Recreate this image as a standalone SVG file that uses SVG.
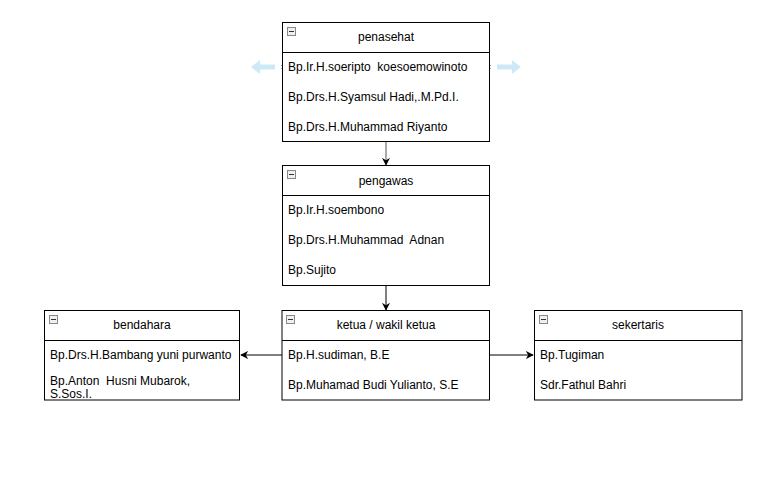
<svg xmlns="http://www.w3.org/2000/svg" width="778" height="485" viewBox="0 0 778 485">
<style>
.box{fill:#fff;stroke:#000;stroke-width:1}
.hl{stroke:#000;stroke-width:1}
.t{font-family:"Liberation Sans",Arial,sans-serif;font-size:12px;fill:#000;white-space:pre}
.h{text-anchor:middle}
.ic{fill:#f0f0f0;stroke:#888;stroke-width:1}
.icm{stroke:#333;stroke-width:1}
.c{fill:none;stroke:#000;stroke-width:1}
.hint{fill:#cde9f8}
</style>
<defs>
<marker id="ah" viewBox="0 0 10 10" refX="9" refY="5" markerWidth="8" markerHeight="8" orient="auto" markerUnits="userSpaceOnUse">
<path d="M0,0 L10,5 L0,10 L3,5 Z" fill="#000"/>
</marker>
<g id="icon"><rect class="ic" x="0.5" y="0.5" width="8" height="8"/><line class="icm" x1="2" y1="4.5" x2="7" y2="4.5"/></g>
</defs>
<rect width="778" height="485" fill="#fff"/>
<g id="hints">
<path class="hint" d="M251,67 L260,60 L260,64.5 L275,64.5 L275,69.5 L260,69.5 L260,74 Z"/>
<path class="hint" d="M521,67 L512,60 L512,64.5 L497,64.5 L497,69.5 L512,69.5 L512,74 Z"/>
<path d="M281,65 L285,69 M285,65 L281,69" stroke="#5bb7e8" stroke-width="1"/>
<path d="M487,65 L491,69 M491,65 L487,69" stroke="#5bb7e8" stroke-width="1"/>
</g>
<g id="connectors">
<line class="c" x1="386" y1="142" x2="386" y2="165" style="stroke:#555" marker-end="url(#ah)"/>
<line class="c" x1="386" y1="286" x2="386" y2="310" marker-end="url(#ah)"/>
<line class="c" x1="282" y1="355" x2="241" y2="355" marker-end="url(#ah)"/>
<line class="c" x1="490" y1="355" x2="533" y2="355" marker-end="url(#ah)"/>
</g>
<g id="penasehat">
<rect class="box" x="282.5" y="22.5" width="207" height="119"/>
<line class="hl" x1="282.5" y1="52.5" x2="489.5" y2="52.5"/>
<use href="#icon" x="287" y="27"/>
<text class="t h" x="386" y="41">penasehat</text>
<text class="t" x="288" y="71" xml:space="preserve">Bp.Ir.H.soeripto  koesoemowinoto</text>
<text class="t" x="288" y="101">Bp.Drs.H.Syamsul Hadi,.M.Pd.I.</text>
<text class="t" x="288" y="131">Bp.Drs.H.Muhammad Riyanto</text>
</g>
<g id="pengawas">
<rect class="box" x="282.5" y="165.5" width="207" height="120"/>
<line class="hl" x1="282.5" y1="195.5" x2="489.5" y2="195.5"/>
<use href="#icon" x="287" y="170"/>
<text class="t h" x="386" y="185">pengawas</text>
<text class="t" x="288" y="214">Bp.Ir.H.soembono</text>
<text class="t" x="288" y="244" xml:space="preserve">Bp.Drs.H.Muhammad  Adnan</text>
<text class="t" x="288" y="274">Bp.Sujito</text>
</g>
<g id="ketua">
<rect class="box" x="282" y="310.5" width="207.5" height="89.5"/>
<line class="hl" x1="282" y1="340.5" x2="489.5" y2="340.5"/>
<use href="#icon" x="286" y="315"/>
<text class="t h" x="386" y="329">ketua / wakil ketua</text>
<text class="t" x="288" y="359">Bp.H.sudiman, B.E</text>
<text class="t" x="288" y="389">Bp.Muhamad Budi Yulianto, S.E</text>
</g>
<g id="bendahara">
<rect class="box" x="44.5" y="310.5" width="195" height="89.5"/>
<line class="hl" x1="44.5" y1="340.5" x2="239.5" y2="340.5"/>
<use href="#icon" x="49" y="315"/>
<text class="t h" x="142" y="329">bendahara</text>
<text class="t" x="50" y="359">Bp.Drs.H.Bambang yuni purwanto</text>
<text class="t" x="50" y="385" xml:space="preserve">Bp.Anton  Husni Mubarok,</text>
<text class="t" x="50" y="398">S.Sos.I.</text>
</g>
<g id="sekertaris">
<rect class="box" x="534.5" y="310.5" width="207.5" height="89.5"/>
<line class="hl" x1="534.5" y1="340.5" x2="742" y2="340.5"/>
<use href="#icon" x="539" y="315"/>
<text class="t h" x="638" y="329">sekertaris</text>
<text class="t" x="540" y="359">Bp.Tugiman</text>
<text class="t" x="540" y="389">Sdr.Fathul Bahri</text>
</g>
</svg>
